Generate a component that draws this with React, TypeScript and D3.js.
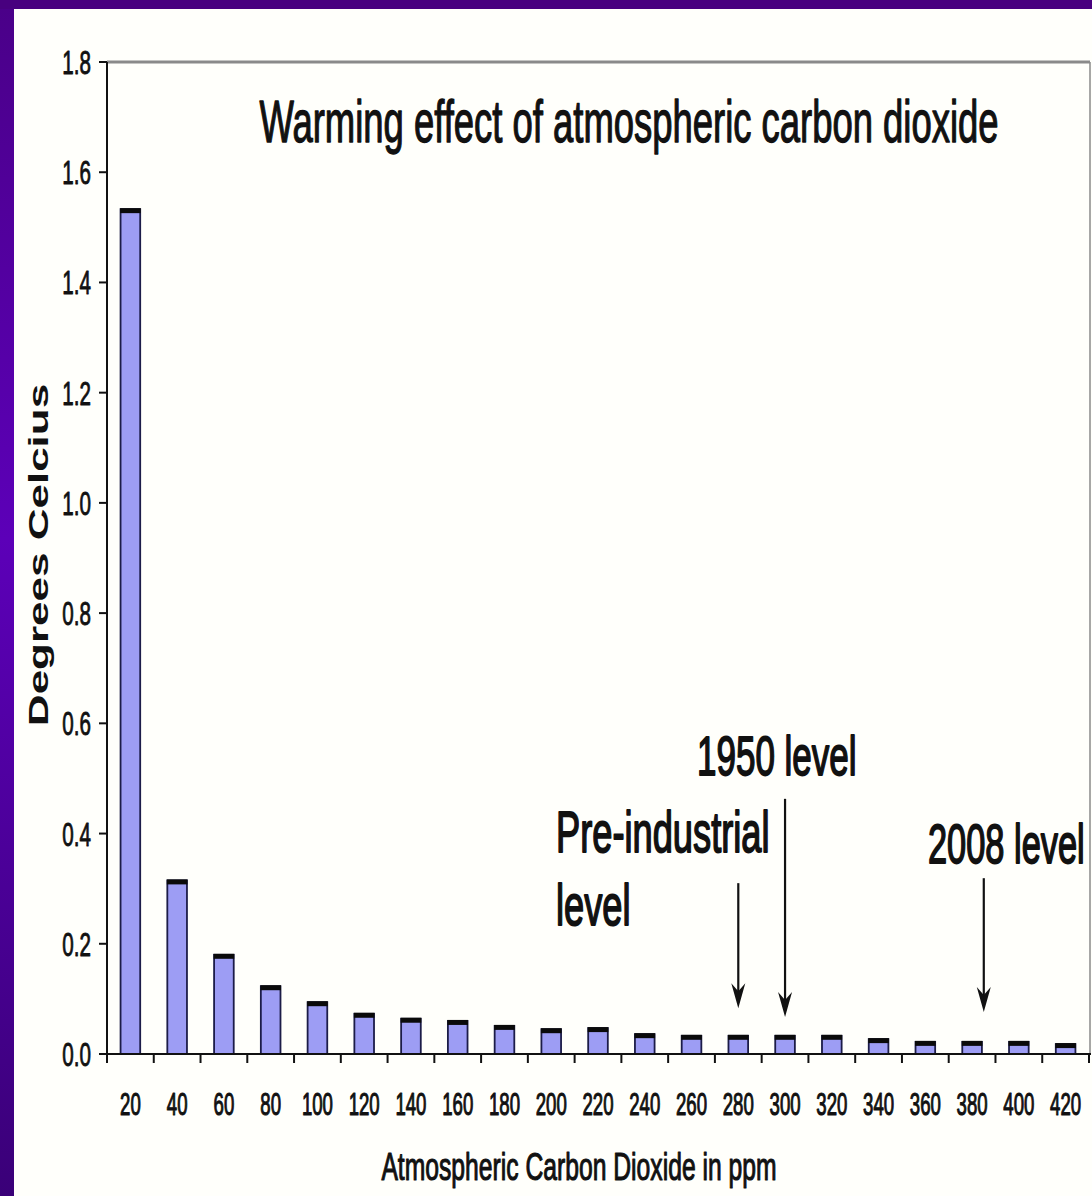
import React from 'react';
import * as d3 from 'd3';

const categories = [20, 40, 60, 80, 100, 120, 140, 160, 180, 200, 220, 240, 260, 280, 300, 320, 340, 360, 380, 400, 420];
const warming = [1.533, 0.315, 0.18, 0.123, 0.094, 0.073, 0.064, 0.06, 0.051, 0.045, 0.047, 0.036, 0.033, 0.033, 0.033, 0.033, 0.027, 0.022, 0.022, 0.022, 0.018];
const yTicks = [0, 0.2, 0.4, 0.6, 0.8, 1.0, 1.2, 1.4, 1.6, 1.8];

const annotationLines = [['Pre-industrial', 'level'], ['1950 level'], ['2008 level']];
const annotationPpm = [280, 300, 385];
const arrowTop = [0.31, 0.463, 0.319];
const arrowTip = [0.083, 0.067, 0.076];

const titleText = 'Warming effect of atmospheric carbon dioxide';
const xTitle = 'Atmospheric Carbon Dioxide in ppm';
const yTitle = 'Degrees Celcius';

const W = 1092;
const H = 1196;
const plot = { left: 107, right: 1089, top: 62, bottom: 1054 };
const FONT = "'Liberation Sans', Arial, sans-serif";
const SX = 0.625;

function SqText({ x, y, size, anchor = 'start', weight = 'normal', sx = SX, sw = 1.2, children }: any) {
  return (
    <g transform={`translate(${x},${y}) scale(${sx},1)`}>
      <text x={0} y={0} fontSize={size} textAnchor={anchor} fontFamily={FONT} fontWeight={weight} fill="#111" stroke="#111" strokeWidth={sw} strokeLinejoin="round">
        {children}
      </text>
    </g>
  );
}

export default function App() {
  const x = d3.scaleBand<number>().domain(categories).range([plot.left, plot.right]).padding(0);
  const y = d3.scaleLinear().domain([0, 1.8]).range([plot.bottom, plot.top]);
  const bw = x.bandwidth() * 0.42;
  const center = (c: number) => (x(c) as number) + x.bandwidth() / 2;
  const ppmX = d3.scaleLinear().domain([categories[0], categories[categories.length - 1]]).range([center(categories[0]), center(categories[categories.length - 1])]);
  const boundaries = d3.range(categories.length + 1).map((i) => plot.left + i * x.step());

  const labelPos = [
    { x: 556, y: 852, size: 58, lh: 73 },
    { x: 697, y: 775, size: 56, lh: 0 },
    { x: 928, y: 863, size: 55, lh: 0 },
  ];

  return (
    <svg width={W} height={H} style={{ position: 'absolute', left: 0, top: 0, display: 'block' }}>
      <defs>
        <linearGradient id="leftBand" x1="0" y1="0" x2="0" y2="1">
          <stop offset="0" stopColor="#4a0088" />
          <stop offset="0.45" stopColor="#5c00b8" />
          <stop offset="1" stopColor="#3a0078" />
        </linearGradient>
      </defs>
      <rect x={0} y={0} width={W} height={H} fill="#fffffb" />
      <rect x={0} y={0} width={14} height={H} fill="url(#leftBand)" />
      <rect x={0} y={0} width={W} height={9} fill="#48007f" />

      {/* frame top/right */}
      <line x1={plot.left} x2={plot.right + 1} y1={plot.top} y2={plot.top} stroke="#8a8a8a" strokeWidth={3} />
      <line x1={plot.right + 1} x2={plot.right + 1} y1={plot.top} y2={plot.bottom} stroke="#8a8a8a" strokeWidth={1.5} />

      {/* bars */}
      {categories.map((c, i) => {
        const cx = center(c);
        const top = y(warming[i]);
        return (
          <g key={c}>
            <rect x={cx - bw / 2} y={top} width={bw} height={plot.bottom - top} fill="#9d9df4" stroke="#1c1c48" strokeWidth={1.8} />
            <rect x={cx - bw / 2 - 0.5} y={top - 1} width={bw + 1} height={5} fill="#0a0a0a" />
          </g>
        );
      })}

      {/* axes */}
      <line x1={plot.left} x2={plot.left} y1={plot.top} y2={plot.bottom + 9} stroke="#111" strokeWidth={2} />
      <line x1={plot.left - 7} x2={plot.right + 2} y1={plot.bottom} y2={plot.bottom} stroke="#111" strokeWidth={2} />
      {yTicks.map((t) => (
        <g key={t}>
          <line x1={plot.left - 8} x2={plot.left} y1={y(t)} y2={y(t)} stroke="#111" strokeWidth={2} />
          <SqText x={91} y={y(t) + 12} size={33} anchor="end" sw={0.9}>{d3.format('.1f')(t)}</SqText>
        </g>
      ))}
      {boundaries.map((b, i) => (
        <line key={i} x1={b} x2={b} y1={plot.bottom} y2={plot.bottom + 9} stroke="#111" strokeWidth={2} />
      ))}
      {categories.map((c) => (
        <SqText key={c} x={center(c)} y={1115} size={31} anchor="middle" sx={0.6} sw={1.1}>{String(c)}</SqText>
      ))}

      {/* titles */}
      <SqText x={629} y={142} size={58.5} anchor="middle" sx={0.623} sw={1.3}>{titleText}</SqText>
      <SqText x={579} y={1180} size={38} anchor="middle" sx={0.65} sw={1.1}>{xTitle}</SqText>
      <g transform={`translate(48,555) scale(0.62,1) rotate(-90)`}>
        <text x={0} y={0} fontSize={44} fontWeight="bold" textAnchor="middle" fontFamily={FONT} fill="#111">{yTitle}</text>
      </g>

      {/* annotations */}
      {annotationLines.map((lines, i) => (
        <g key={i}>
          {lines.map((l, j) => (
            <SqText key={j} x={labelPos[i].x} y={labelPos[i].y + j * labelPos[i].lh} size={labelPos[i].size} sw={1.8}>{l}</SqText>
          ))}
        </g>
      ))}
      {annotationPpm.map((p, i) => {
        const ax = ppmX(p);
        const y0 = y(arrowTop[i]);
        const y1 = y(arrowTip[i]);
        return (
          <g key={i}>
            <line x1={ax} x2={ax} y1={y0} y2={y1 - 10} stroke="#111" strokeWidth={2.2} />
            <path d={`M${ax},${y1} L${ax - 7},${y1 - 25} L${ax},${y1 - 17} L${ax + 7},${y1 - 25} Z`} fill="#111" />
          </g>
        );
      })}
    </svg>
  );
}
